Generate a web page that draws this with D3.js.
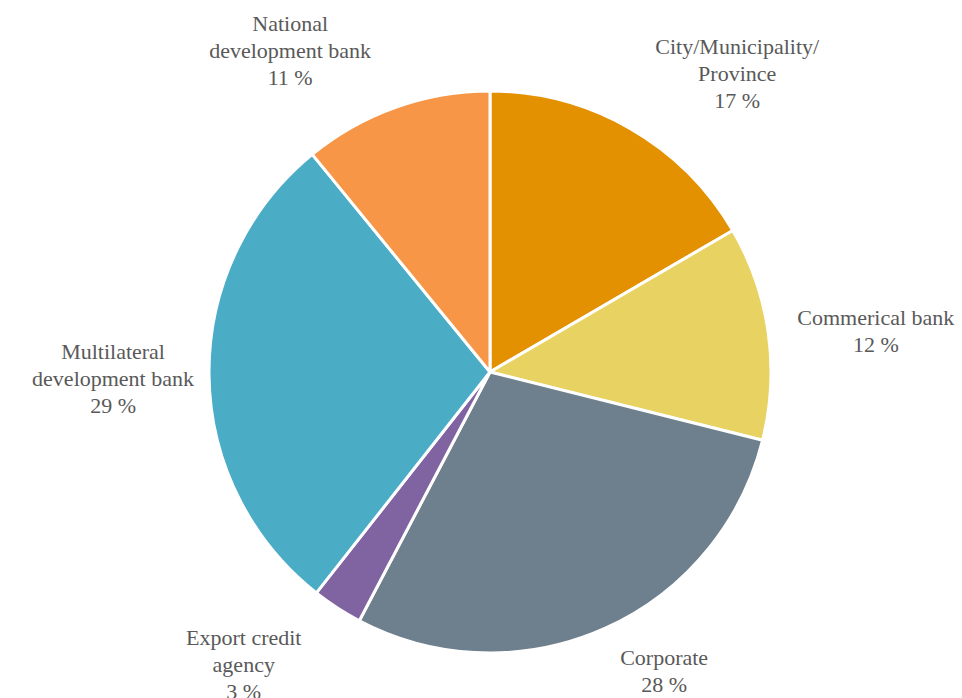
<!DOCTYPE html>
<html>
<head>
<meta charset="utf-8">
<script src="https://cdn.jsdelivr.net/npm/d3@7"></script>
<style>
  body { margin: 0; background: #fff; }
</style>
</head>
<body>
<svg id="chart" width="962" height="698"></svg>
<script>
// data (share of total, %)
var categories = [
  ["City/Municipality/", "Province"],
  ["Commerical bank"],
  ["Corporate"],
  ["Export credit", "agency"],
  ["Multilateral", "development bank"],
  ["National", "development bank"]
];
var shares = [16.6, 12.3, 28.8, 2.9, 28.5, 10.9];
var pctLabels = ["17 %", "12 %", "28 %", "3 %", "29 %", "11 %"];
var colors = ["#E39100", "#E8D262", "#6E7F8E", "#8064A2", "#4BACC6", "#F79646"];

// label placement: angle nudge (deg) and distance from centre
var labelNudge = [[9.7, 388], [2.0, 388], [-6.1, 346], [7.2, 382], [-0.4, 377], [-12.2, 379]];

var svg = d3.select("#chart"),
    cx = 490,
    cy = 372,
    radius = 281,
    lineH = 27,
    font = "'Liberation Serif', 'Times New Roman', serif";

var pie = d3.pie().sort(null).value(function(d) { return d; });
var arcs = pie(shares);

var arc = d3.arc().innerRadius(0).outerRadius(radius);

var g = svg.append("g").attr("transform", "translate(" + cx + "," + cy + ")");

g.selectAll("path")
  .data(arcs)
  .enter().append("path")
  .attr("d", arc)
  .attr("fill", function(d, i) { return colors[i]; })
  .attr("stroke", "#fff")
  .attr("stroke-width", 3)
  .attr("stroke-linejoin", "round");

var labels = g.selectAll("g.lbl")
  .data(arcs)
  .enter().append("g")
  .attr("class", "lbl")
  .attr("transform", function(d, i) {
    var a = (d.startAngle + d.endAngle) / 2 + labelNudge[i][0] * Math.PI / 180,
        r = labelNudge[i][1];
    return "translate(" + (r * Math.sin(a)) + "," + (-r * Math.cos(a)) + ")";
  });

labels.each(function(d, i) {
  var lines = categories[i].concat([pctLabels[i]]);
  var y0 = -(lines.length - 1) / 2 * lineH;
  d3.select(this).selectAll("text")
    .data(lines)
    .enter().append("text")
    .attr("x", 0)
    .attr("y", function(t, j) { return y0 + j * lineH; })
    .attr("dy", "0.35em")
    .style("font-family", font)
    .attr("font-size", 22)
    .attr("fill", "#595959")
    .style("text-anchor", "middle")
    .text(function(t) { return t; });
});
</script>
</body>
</html>
